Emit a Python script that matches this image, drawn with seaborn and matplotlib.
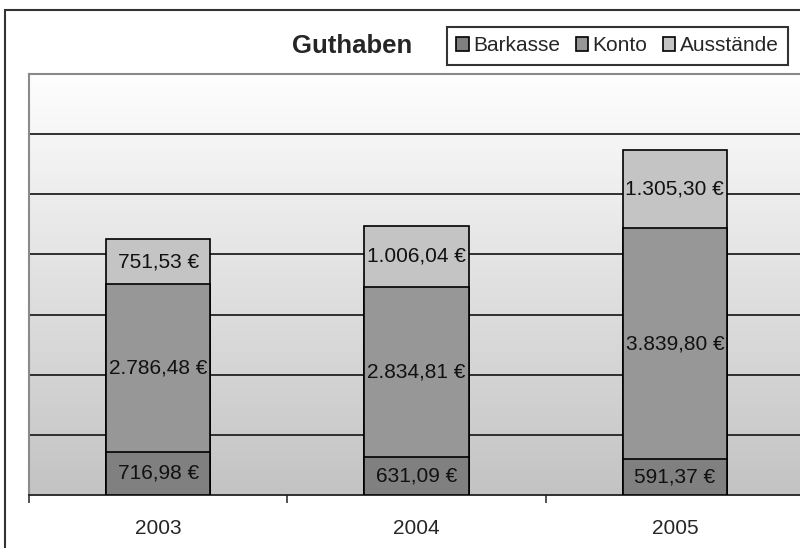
import numpy as np
import pandas as pd
import matplotlib
matplotlib.use("Agg")
import matplotlib.pyplot as plt
import matplotlib.patches as mpatches
from matplotlib.colors import LinearSegmentedColormap
import seaborn as sns

years = ["2003", "2004", "2005"]
barkasse = [716.98, 631.09, 591.37]
konto = [2786.48, 2834.81, 3839.80]
ausstaende = [751.53, 1006.04, 1305.30]
series_names = ["Barkasse", "Konto", "Ausstände"]
colors = ["#808080", "#979797", "#c4c4c4"]
title = "Guthaben"

sns.set_style("white")
plt.rcParams["font.family"] = ["Liberation Sans", "DejaVu Sans"]

df = pd.DataFrame({"year": years, "Barkasse": barkasse, "Konto": konto, "Ausstände": ausstaende})
df["c1"] = df["Barkasse"]
df["c2"] = df["c1"] + df["Konto"]
df["c3"] = df["c2"] + df["Ausstände"]

W, H = 800, 548
fig = plt.figure(figsize=(W / 100, H / 100), dpi=100)
fig.patch.set_facecolor("white")

# outer chart border (cut off at right/bottom)
fig.add_artist(mpatches.Rectangle((5 / W, -0.1), 1.2, 1 - 10 / H + 0.1,
                                  transform=fig.transFigure, fill=False,
                                  edgecolor="#333333", lw=1.5))

left, right, top, bottom = 29, 804, 74, 495
ax = fig.add_axes([left / W, 1 - bottom / H, (right - left) / W, (bottom - top) / H])

# gradient background
cmap = LinearSegmentedColormap.from_list("bg", ["#fefefe", "#c3c3c3"])
grad = np.linspace(0, 1, 256).reshape(-1, 1)
ax.imshow(grad, cmap=cmap, aspect="auto", extent=[0, 1, 0, 1],
          transform=ax.transAxes, zorder=0, origin="upper")

for col, c in zip(["c3", "c2", "c1"], [colors[2], colors[1], colors[0]]):
    sns.barplot(data=df, x="year", y=col, color=c, width=0.405, ax=ax,
                edgecolor="black", linewidth=1.2, saturation=1, zorder=3)

ax.set_xlim(-0.5, 2.5)
ax.set_ylim(0, 7000)
for yv in range(1000, 7000, 1000):
    ax.axhline(yv, color="#222222", lw=1.3, zorder=1)

ax.set_xlabel("")
ax.set_ylabel("")
ax.set_yticks([])
ax.set_xticks(range(3))
ax.set_xticklabels(years, fontsize=15)
ax.tick_params(axis="x", which="major", bottom=False, length=0, pad=17.5)
ax.set_xticks([-0.5, 0.5, 1.5, 2.5], minor=True)
ax.tick_params(axis="x", which="minor", bottom=True, length=6, width=1.2,
               color="#333333", direction="out")

for s in ["left", "top"]:
    ax.spines[s].set_color("#8a8a8a")
    ax.spines[s].set_linewidth(1.5)
ax.spines["right"].set_visible(False)
ax.spines["bottom"].set_color("#222222")
ax.spines["bottom"].set_linewidth(1.3)


def fmt(v):
    s = f"{v:,.2f}"
    return s.replace(",", "X").replace(".", ",").replace("X", ".") + " €"


for i in range(3):
    lows = [0, df["c1"][i], df["c2"][i]]
    vals = [barkasse[i], konto[i], ausstaende[i]]
    for lo, v in zip(lows, vals):
        ax.text(i, lo + v / 2, fmt(v), ha="center", va="center",
                fontsize=15, color="#111111", zorder=5)

fig.text(352 / W, 1 - 46 / H, title, ha="center", va="center",
         fontsize=18.5, fontweight="bold")

handles = [mpatches.Patch(facecolor=c, edgecolor="black", lw=1.2) for c in colors]
leg = fig.legend(handles, series_names, loc="upper left",
                 bbox_to_anchor=(447 / W, 1 - 27 / H), bbox_transform=fig.transFigure,
                 ncol=3, fontsize=15, frameon=True, fancybox=False,
                 handlelength=0.6, handleheight=0.6, handletextpad=0.2,
                 columnspacing=0.75, borderpad=0.45, borderaxespad=0)
leg.get_frame().set_edgecolor("black")
leg.get_frame().set_linewidth(1.5)

fig.savefig("out.png", dpi=100)
